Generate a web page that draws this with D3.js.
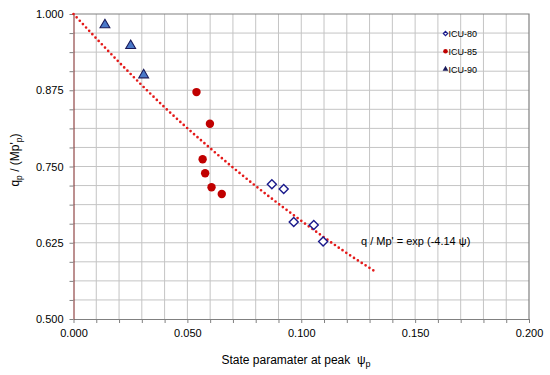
<!DOCTYPE html>
<html lang="en">
<head>
<meta charset="UTF-8">
<script src="https://d3js.org/d3.v7.min.js"></script>
<style>
  body { margin: 0; background: #fff; }
  text { font-family: "Liberation Sans", Arial, sans-serif; fill: #000; }
</style>
</head>
<body>
<script>
// Data
const icu80Psi = [0.0871, 0.0923, 0.0967, 0.1055, 0.1096];
const icu80Q   = [0.721, 0.713, 0.659, 0.654, 0.627];

const icu85Psi = [0.0540, 0.0599, 0.0567, 0.0578, 0.0606, 0.0651];
const icu85Q   = [0.872, 0.820, 0.762, 0.739, 0.716, 0.705];

const icu90Psi = [0.0138, 0.0251, 0.0308];
const icu90Q   = [0.982, 0.948, 0.900];

// fitted trend line
const fitPsi = [0.000, 0.020, 0.040, 0.060, 0.080, 0.100, 0.120, 0.132];
const fitQ   = [1.000, 0.921, 0.847, 0.780, 0.718, 0.661, 0.608, 0.579];

const xMajor = [0, 0.05, 0.1, 0.15, 0.2];
const yMajor = [0.5, 0.625, 0.75, 0.875, 1.0];

const W = 550, H = 375;
const svg = d3.select('body').append('svg').attr('width', W).attr('height', H);

const x = d3.scaleLinear().domain([0, 0.2]).range([73.5, 529]);
const y = d3.scaleLinear().domain([0.5, 1]).range([319, 14]);

const xMinor = d3.range(0, 21).map(i => i * 0.01);
const yMinor = d3.range(0, 17).map(i => 0.5 + i * 0.03125);

// grid
svg.append('g').selectAll('line').data(xMinor.slice(1, -1)).enter().append('line')
    .attr('x1', d => x(d)).attr('x2', d => x(d))
    .attr('y1', y(0.5)).attr('y2', y(1))
    .attr('stroke', '#c4c4c4').attr('stroke-width', 1);
svg.append('g').selectAll('line').data(yMinor.slice(1, -1)).enter().append('line')
    .attr('x1', x(0)).attr('x2', x(0.2))
    .attr('y1', d => y(d)).attr('y2', d => y(d))
    .attr('stroke', '#c4c4c4').attr('stroke-width', 1);

// top and right border
svg.append('path')
    .attr('d', `M${x(0)},${y(1)}H${x(0.2)}V${y(0.5)}`)
    .attr('fill', 'none').attr('stroke', '#808080').attr('stroke-width', 1.2);

// x axis
const xAxis = svg.append('g')
    .attr('transform', `translate(0,${y(0.5)})`)
    .call(d3.axisBottom(x).tickValues(xMinor).tickSize(4).tickSizeOuter(0)
        .tickFormat(d => xMajor.some(m => Math.abs(m - d) < 1e-9) ? d3.format('.3f')(d) : ''));
xAxis.select('.domain').attr('stroke', '#808080');
xAxis.selectAll('.tick line').attr('stroke', '#808080');
xAxis.selectAll('.tick text').attr('font-size', '11px').attr('dy', '1.0em')
    .style('font-family', '"Liberation Sans", Arial, sans-serif');

// y axis
const yAxis = svg.append('g')
    .attr('transform', `translate(${x(0)},0)`)
    .call(d3.axisLeft(y).tickValues(yMinor).tickSize(4).tickSizeOuter(0)
        .tickFormat(d => yMajor.some(m => Math.abs(m - d) < 1e-9) ? d3.format('.3f')(d) : ''));
yAxis.select('.domain').attr('stroke', '#7a2020');
yAxis.selectAll('.tick line').attr('stroke', '#808080');
yAxis.selectAll('.tick text').attr('font-size', '11px').attr('x', -10)
    .style('font-family', '"Liberation Sans", Arial, sans-serif');

// fitted line, red dots
const line = d3.line().x(d => x(d[0])).y(d => y(d[1])).curve(d3.curveMonotoneX);
svg.append('path')
    .datum(fitPsi.map((p, i) => [p, fitQ[i]]))
    .attr('d', line)
    .attr('fill', 'none')
    .attr('stroke', '#e41a1a')
    .attr('stroke-width', 2.7)
    .attr('stroke-linecap', 'round')
    .attr('stroke-dasharray', '0,4.6');

// ICU-85 circles
svg.append('g').selectAll('circle').data(icu85Psi).enter().append('circle')
    .attr('cx', d => x(d)).attr('cy', (d, i) => y(icu85Q[i]))
    .attr('r', 4.2).attr('fill', '#c00000');

// ICU-80 diamonds
const diamond = d3.symbol().type(d3.symbolDiamond2).size(52);
svg.append('g').selectAll('path').data(icu80Psi).enter().append('path')
    .attr('d', diamond)
    .attr('transform', (d, i) => `translate(${x(d)},${y(icu80Q[i])})`)
    .attr('fill', '#fff').attr('stroke', '#1a1a8c').attr('stroke-width', 1.4);

// ICU-90 triangles
const tri = d3.symbol().type(d3.symbolTriangle).size(42);
svg.append('g').selectAll('path').data(icu90Psi).enter().append('path')
    .attr('d', tri)
    .attr('transform', (d, i) => `translate(${x(d)},${y(icu90Q[i])})`)
    .attr('fill', '#4a78c8').attr('stroke', '#1a1a5a').attr('stroke-width', 1.1);

// equation label
svg.append('text')
    .attr('x', 361).attr('y', 245)
    .attr('font-size', '11px')
    .text("q / Mp' = exp (-4.14 \u03C8)");

// legend
const legendNames = ['ICU-80', 'ICU-85', 'ICU-90'];
const leg = svg.append('g').selectAll('g').data(legendNames).enter().append('g')
    .attr('transform', (d, i) => `translate(445.5,${33.5 + i * 17.8})`);
leg.each(function (d, i) {
    const g = d3.select(this);
    if (i === 0) {
        g.append('path').attr('d', d3.symbol().type(d3.symbolDiamond2).size(12))
            .attr('fill', '#fff').attr('stroke', '#1a1a8c').attr('stroke-width', 1.2);
    } else if (i === 1) {
        g.append('circle').attr('r', 2.3).attr('fill', '#c00000');
    } else {
        g.append('path').attr('d', d3.symbol().type(d3.symbolTriangle).size(14))
            .attr('fill', '#1a1a5a');
    }
});
leg.append('text').attr('x', 3).attr('y', 3.5).attr('font-size', '9px').text(d => d);

// x axis title
const xt = svg.append('text')
    .attr('x', 296).attr('y', 364)
    .attr('text-anchor', 'middle')
    .attr('font-size', '12px')
    .style('white-space', 'pre');
xt.append('tspan').text('State paramater at peak  \u03C8');
xt.append('tspan').attr('font-size', '9px').attr('dy', 3).text('p');

// y axis title
const yt = svg.append('text')
    .attr('transform', 'translate(19,160) rotate(-90)')
    .attr('text-anchor', 'middle')
    .attr('font-size', '12px');
yt.append('tspan').text('q');
yt.append('tspan').attr('font-size', '8.5px').attr('dy', 3).text('p');
yt.append('tspan').attr('dy', -3).text(" / (Mp'");
yt.append('tspan').attr('font-size', '8.5px').attr('dy', 3).text('p');
yt.append('tspan').attr('dy', -3).text(')');
</script>
</body>
</html>
